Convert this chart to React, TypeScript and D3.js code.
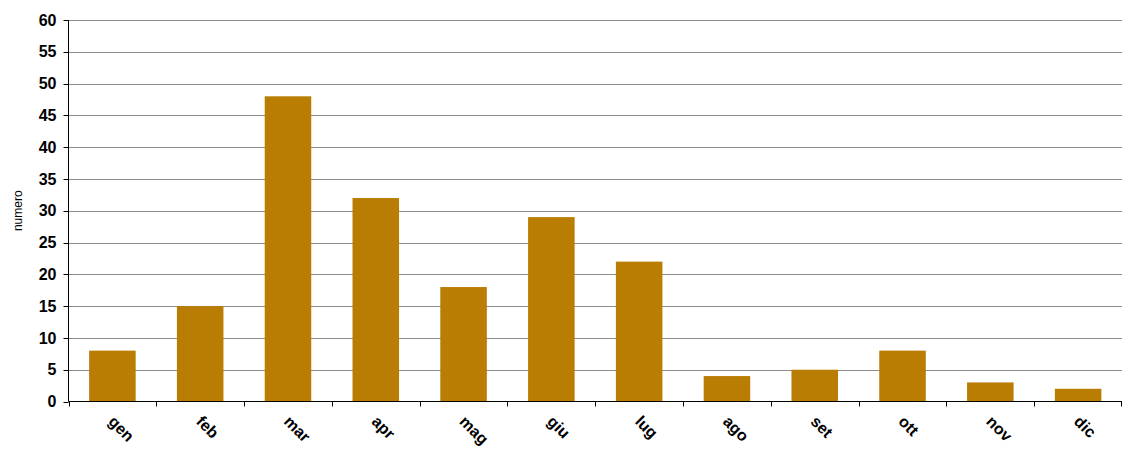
import React from "react";
import * as d3 from "d3";

const categories = ["gen", "feb", "mar", "apr", "mag", "giu", "lug", "ago", "set", "ott", "nov", "dic"];
const values = [8, 15, 48, 32, 18, 29, 22, 4, 5, 8, 3, 2];
const yTicks = [0, 5, 10, 15, 20, 25, 30, 35, 40, 45, 50, 55, 60];

export default function App() {
  const W = 1136, H = 459;
  const left = 68.5, right = 1122, top = 20, bottom = 401.5;
  const x = d3.scaleBand<string>().domain(categories).range([left, right]).paddingInner(0.47).paddingOuter(0.235);
  const xb = d3.scaleBand<string>().domain(categories).range([left, right]);
  const y = d3.scaleLinear().domain([0, 60]).range([bottom, top]);
  const font = "Arial, 'Liberation Sans', sans-serif";
  return (
    <svg width={W} height={H} style={{ position: "absolute", left: 0, top: 0, background: "#fff" }}>
      {yTicks.map(t => (
        <g key={t}>
          {t > 0 && <line x1={left} x2={right} y1={Math.round(y(t)) + 0.5} y2={Math.round(y(t)) + 0.5} stroke="#8c8c8c" strokeWidth={1} />}
          <line x1={left - 5} x2={left} y1={Math.round(y(t)) + 0.5} y2={Math.round(y(t)) + 0.5} stroke="#000" />
          <text x={left - 12} y={y(t)} dy="0.35em" textAnchor="end" fontFamily={font} fontWeight="bold" fontSize={16} fill="#000">{t}</text>
        </g>
      ))}
      {categories.map((c, i) => (
        <rect key={c} x={x(c)} y={y(values[i])} width={x.bandwidth()} height={y(0) - y(values[i])} fill="#B87D02" />
      ))}
      <line x1={left} x2={left} y1={top} y2={bottom} stroke="#000" />
      <line x1={left} x2={right} y1={bottom} y2={bottom} stroke="#000" />
      {categories.map((c, i) => (
        <line key={"t" + c} x1={Math.round(xb(c)!) + 0.5} x2={Math.round(xb(c)!) + 0.5} y1={bottom} y2={bottom + 5} stroke="#000" />
      ))}
      <line x1={right - 0.5} x2={right - 0.5} y1={bottom} y2={bottom + 5} stroke="#000" />
      {categories.map(c => {
        const cx = xb(c)! + xb.bandwidth() / 2;
        return (
          <text key={"l" + c} transform={`translate(${cx - 5},${bottom + 21}) rotate(45)`} fontFamily={font} fontWeight="bold" fontSize={16} fill="#000">{c}</text>
        );
      })}
      <text transform={`translate(22,${(top + bottom) / 2}) rotate(-90)`} textAnchor="middle" fontFamily={font} fontSize={12} fill="#000">numero</text>
    </svg>
  );
}
